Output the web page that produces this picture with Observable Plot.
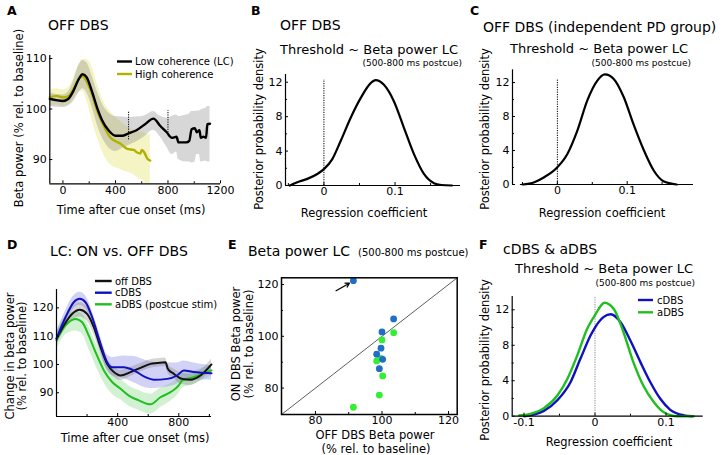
<!DOCTYPE html>
<html><head><meta charset="utf-8">
<script src="https://cdn.jsdelivr.net/npm/d3@7"></script>
<script src="https://cdn.jsdelivr.net/npm/@observablehq/plot@0.6"></script>
<style>
body{margin:0;background:#fff;}
#wrap{position:relative;width:727px;height:455px;overflow:hidden;background:#fff;}
#wrap svg{position:absolute;left:0;top:0;}
</style></head><body><div id="wrap"></div>
<script>
// ---------- Panel A data ----------
const aLCt  = [-100, 0, 40, 80, 120, 150, 180, 220, 260, 300, 350, 400, 450, 500, 560, 620, 690, 740, 790, 830, 865, 880, 940, 962, 980, 1005, 1020, 1040, 1050, 1070, 1090, 1100, 1120];
const aLCm  = [102, 101.6, 102, 103.6, 105.9, 106.9, 106.3, 103.6, 100.3, 97.7, 95.7, 94.7, 94.7, 95.2, 95.8, 96.9, 98.1, 96.7, 95.4, 94.3, 94.5, 93.4, 93.4, 93.7, 96, 96.2, 95.4, 95.8, 94.3, 94.5, 94.3, 97, 97.1];
const aLClo = [100.5, 100.3, 100.6, 101.5, 103.2, 104, 103.3, 100.5, 97, 94.3, 92.3, 91.6, 92.2, 92.8, 93.5, 94.5, 95.8, 94.5, 92.5, 91, 91.5, 90, 89.5, 89.5, 89.3, 89.5, 91, 91, 89.5, 89.6, 89.7, 89.5, 89.5];
const aLChi = [103.2, 102.8, 103.3, 105.5, 108.5, 109.6, 109.2, 106.7, 103.5, 101, 99.2, 98.5, 98.4, 98.3, 98.4, 98.6, 99.5, 98.6, 98.2, 98.5, 98.8, 98.5, 98.8, 99, 99.5, 99.5, 99.6, 99.6, 99.8, 100, 100.2, 100.5, 100.5];
const aHCt  = [-100, -50, 0, 40, 80, 120, 150, 180, 220, 260, 310, 360, 440, 490, 540, 565, 590, 600, 620, 640, 665];
const aHCm  = [102.3, 102.6, 102.3, 102.5, 104, 106, 106.5, 105.5, 103, 99.7, 96.7, 94.4, 93.1, 92.1, 91.9, 91.4, 91.2, 91.9, 91.4, 90.3, 89.8];
const aHClo = [100.5, 100.8, 100.5, 100.8, 101.8, 103.3, 103.5, 101.8, 98, 94.5, 91, 89, 88, 87.5, 87, 86.5, 86, 86, 85.5, 85.2, 85.2];
const aHChi = [103.8, 104, 103.8, 104.2, 106, 108.8, 109.8, 109.8, 108.5, 105, 101.5, 99.5, 97.5, 96.5, 95.8, 95.5, 95.3, 95.5, 95.3, 95, 95];
const aWindow = [{t: 500, y1: 93.9, y2: 99.6}, {t: 800, y1: 94.8, y2: 99.7}];
const aXticks = [0, 400, 800, 1200], aXminor = [200, 600, 1000];
const aYticks = [90, 100, 110];

// ---------- Panel B / C data ----------
const bX = [-0.048, -0.0374, -0.0233, -0.0093, 0, 0.0118, 0.0235, 0.0375, 0.0516, 0.0657, 0.0727, 0.0844, 0.0985, 0.1125, 0.1266, 0.1406, 0.1547, 0.165, 0.18];
const bY = [0, 0.38, 0.77, 1.34, 1.9, 3.07, 5.17, 7.85, 10.15, 11.9, 12.25, 11.7, 9.77, 6.7, 3.64, 1.34, 0.27, 0.06, 0];
const bZeroLineTop = 12.3;
const cX = [-0.05, -0.033, -0.019, 0, 0.0143, 0.0286, 0.0429, 0.057, 0.068, 0.081, 0.095, 0.109, 0.124, 0.138, 0.152, 0.171];
const cY = [0, 0.27, 0.86, 2.04, 3.6, 6.35, 9.9, 12.2, 12.95, 12.4, 10.3, 7.1, 4.0, 1.65, 0.39, 0];
const cZeroLineTop = 12.3;
const densYticks = [0, 4, 8, 12], densYminor = [2, 6, 10];
const bcXticks = [0, 0.1], bcXminor = [-0.05, 0.05, 0.15];

// ---------- Panel D data ----------
const dOffT  = [0, 48, 103, 152, 200, 244, 288, 331, 375, 419, 484, 549, 615, 658, 713, 728, 767, 822, 876, 942, 1014];
const dOffM  = [109.1, 113.8, 117.9, 119.3, 117.9, 113.2, 106.1, 100.2, 97.3, 96.1, 97.3, 98.8, 100.2, 100.5, 100.8, 98.5, 96.7, 94.9, 94.6, 96.1, 100];
const dOffLo = [107.2, 111.8, 115.6, 116.8, 115.4, 110.7, 103.8, 98.2, 95.5, 94.3, 95.7, 97.3, 98.7, 99, 99.3, 97, 95, 92.9, 92.6, 94.3, 98.2];
const dOffHi = [111, 115.8, 120.2, 121.8, 120.4, 115.7, 108.4, 102.2, 99.1, 97.9, 99, 100.3, 101.7, 102, 102.3, 100, 98.4, 96.9, 96.6, 97.9, 101.8];
const dCT  = [0, 59, 113, 152, 190, 233, 288, 331, 364, 440, 506, 582, 636, 724, 789, 833, 898, 1014];
const dCM  = [109.1, 116.7, 122, 123.2, 122, 116.7, 107.3, 100.8, 99, 99, 97.9, 95.5, 94.6, 94.9, 96.1, 97.9, 97.3, 96.9];
const dCLo = [106.5, 114.3, 119.7, 120.9, 119.7, 114.3, 104.5, 98, 96, 95, 93.5, 91.8, 91.5, 92, 93, 94.3, 94.5, 94.5];
const dCHi = [111.5, 119, 124.3, 125.5, 124.3, 119, 110, 103.5, 102.5, 103, 102.8, 101.5, 100.8, 100.5, 100.5, 101.2, 100.5, 99.5];
const dAT  = [0, 59, 124, 168, 211, 255, 310, 364, 419, 473, 538, 615, 680, 746, 800, 822, 898, 1014];
const dAM  = [108.5, 113.8, 116.1, 114.9, 110.2, 104.4, 97.9, 93.8, 91.4, 89, 87.3, 85.9, 88.4, 90.2, 92.6, 94.3, 95.5, 97.9];
const dALo = [105, 110.5, 111.8, 110.8, 105.5, 99.8, 93.5, 89.5, 87.5, 85.3, 83.8, 82.4, 84.8, 87, 89.7, 91.5, 93, 96];
const dAHi = [111.5, 117, 118.7, 117.8, 113.5, 108, 101.5, 97.3, 94.8, 92.5, 90.8, 89.5, 91.6, 93.2, 95.5, 97, 97.8, 99.8];
const dXticks = [400, 800], dXminor = [200, 600, 1000];
const dYticks = [90, 100, 110, 120];
const dLegend = ["off DBS", "cDBS", "aDBS (postcue stim)"];

// ---------- Panel E data ----------
const eCX = [91.4, 103.5, 100, 99.7, 98.4, 100.2, 99.2];
const eCY = [121.5, 106.7, 101.7, 95.4, 93.1, 91.1, 87.5];
const eAX = [103.5, 100, 98.4, 99.7, 100.2, 99.2, 91.4];
const eAY = [101.4, 98.6, 90.5, 91.5, 84.7, 77.3, 72.6];
const eArrow = {x1: 86.2, y1: 117.6, x2: 90.2, y2: 120.5};
const eTicks = [80, 100, 120], eMinor = [90, 110];

// ---------- Panel F data ----------
const fCX = [-0.1, -0.072, -0.053, -0.0345, -0.0204, -0.0063, 0, 0.0124, 0.022, 0.036, 0.05, 0.064, 0.078, 0.092, 0.106, 0.125, 0.137];
const fCY = [0, 0.6, 1.8, 3.83, 6.5, 9.1, 10.0, 11.2, 11.5, 10.6, 8.5, 6.1, 3.83, 1.96, 0.72, 0.1, 0];
const fAX = [-0.107, -0.091, -0.072, -0.053, -0.039, -0.025, -0.011, 0, 0.0134, 0.0265, 0.04, 0.054, 0.068, 0.083, 0.097, 0.116, 0.139];
const fAY = [0.08, 0.27, 0.9, 2.33, 4.2, 6.84, 9.85, 11.4, 12.8, 12.1, 9.5, 6.1, 3.46, 1.58, 0.45, 0, 0];
const fXticks = [-0.1, 0, 0.1], fXminor = [-0.05, 0.05];
const fLegend = ["cDBS", "aDBS"];

// ---------- colours ----------
const C_LC = "#000000", C_HC = "#b4b000";
const C_OFF = "#111111", C_C = "#1010c0", C_A = "#1fbf1f";
const C_EBLUE = "#1f6fc5", C_EGREEN = "#33ee33";

// ---------- build ----------
const W = 727, H = 455;
const FONT = "'DejaVu Sans', sans-serif";
const wrap = document.getElementById("wrap");
const style = {background: "transparent", fontFamily: FONT, fontSize: "11px", color: "#000", overflow: "visible"};
const zip = (t, m, lo, hi) => t.map((v, i) => ({t: v, m: m[i], lo: lo ? lo[i] : null, hi: hi ? hi[i] : null}));
const pts = (x, y) => x.map((v, i) => ({x: v, y: y[i]}));
function add(p) { wrap.appendChild(p); }
function frame(l, r, t, b) { return {width: W, height: H, marginLeft: l, marginRight: W - r, marginTop: t, marginBottom: H - b, style}; }
const fmt = d => String(d);
function axes(xt, xm, yt, ym, xd, yd, opts = {}) {
  const m = [
    Plot.axisX({ticks: xt, tickSize: -3, tickPadding: 5, label: null, tickFormat: fmt}),
    Plot.axisY({ticks: yt, tickSize: -3, tickPadding: 6, label: null, tickFormat: fmt}),
  ];
  if (xm) m.push(Plot.axisX({ticks: xm, tickSize: -2, label: null, tickFormat: () => ""}));
  if (ym) m.push(Plot.axisY({ticks: ym, tickSize: -2, label: null, tickFormat: () => ""}));
  if (!opts.noSpines) {
    m.push(Plot.ruleY([yd[0]], {x1: opts.xStart ?? xd[0], x2: xd[1], stroke: "#000", strokeWidth: 1.2}));
    m.push(Plot.ruleX([xd[0]], {y1: yd[0], y2: yd[1], stroke: "#000", strokeWidth: 1.2}));
  }
  return m;
}

// Panel A
const aXd = [-100, 1200], aYd = [85.2, 110.6];
const lc = zip(aLCt, aLCm, aLClo, aLChi), hc = zip(aHCt, aHCm, aHClo, aHChi);
add(Plot.plot({...frame(49.3, 220, 55, 183.3), x: {domain: aXd}, y: {domain: aYd}, marks: [
  Plot.areaY(hc, {x: "t", y1: "lo", y2: "hi", fill: "#ecec9e", fillOpacity: 0.6, curve: "monotone-x"}),
  Plot.areaY(lc, {x: "t", y1: "lo", y2: "hi", fill: "#8c8c8c", fillOpacity: 0.35, curve: "monotone-x"}),
  Plot.line(hc, {x: "t", y: "m", stroke: C_HC, strokeWidth: 2.4, curve: "monotone-x"}),
  Plot.line(lc, {x: "t", y: "m", stroke: C_LC, strokeWidth: 2.4, curve: "monotone-x"}),
  Plot.ruleX(aWindow, {x: "t", y1: "y1", y2: "y2", stroke: "#000", strokeWidth: 1, strokeDasharray: "1.2,1.2"}),
  ...axes(aXticks, aXminor, aYticks, null, aXd, aYd)
]}));

// Panel B
const bXd = [-0.054, 0.192], bYd = [0, 12.9];
add(Plot.plot({...frame(285, 460, 74, 185), x: {domain: bXd}, y: {domain: bYd}, marks: [
  Plot.ruleX([0], {y1: 0, y2: bZeroLineTop, stroke: "#000", strokeWidth: 1, strokeDasharray: "1.2,1.2"}),
  Plot.line(pts(bX, bY), {x: "x", y: "y", stroke: "#000", strokeWidth: 2.2, curve: "monotone-x"}),
  ...axes(bcXticks, bcXminor, densYticks, densYminor, bXd, bYd)
]}));

// Panel C
const cXd = [-0.0643, 0.195], cYd = [0, 13.5];
add(Plot.plot({...frame(512, 693, 69.3, 184), x: {domain: cXd}, y: {domain: cYd}, marks: [
  Plot.ruleX([0], {y1: 0, y2: cZeroLineTop, stroke: "#000", strokeWidth: 1, strokeDasharray: "1.2,1.2"}),
  Plot.line(pts(cX, cY), {x: "x", y: "y", stroke: "#000", strokeWidth: 2.2, curve: "monotone-x"}),
  ...axes(bcXticks, bcXminor, densYticks, densYminor, cXd, cYd, {xStart: -0.053})
]}));

// Panel D
const dXd = [0, 1014], dYd = [81.6, 126.5];
const dOff = zip(dOffT, dOffM, dOffLo, dOffHi), dC = zip(dCT, dCM, dCLo, dCHi), dA = zip(dAT, dAM, dALo, dAHi);
add(Plot.plot({...frame(56, 211, 289, 416), x: {domain: dXd}, y: {domain: dYd}, marks: [
  Plot.areaY(dA, {x: "t", y1: "lo", y2: "hi", fill: "#8fdc8f", fillOpacity: 0.4, curve: "monotone-x"}),
  Plot.areaY(dC, {x: "t", y1: "lo", y2: "hi", fill: "#8f8fe8", fillOpacity: 0.4, curve: "monotone-x"}),
  Plot.areaY(dOff, {x: "t", y1: "lo", y2: "hi", fill: "#777", fillOpacity: 0.3, curve: "monotone-x"}),
  Plot.line(dA, {x: "t", y: "m", stroke: C_A, strokeWidth: 2, curve: "monotone-x"}),
  Plot.line(dOff, {x: "t", y: "m", stroke: C_OFF, strokeWidth: 2, curve: "monotone-x"}),
  Plot.line(dC, {x: "t", y: "m", stroke: C_C, strokeWidth: 2, curve: "monotone-x"}),
  ...axes(dXticks, dXminor, dYticks, null, dXd, dYd)
]}));

// Panel E
const eD = [69.8, 122.6];
add(Plot.plot({...frame(281, 456.7, 277.3, 414), x: {domain: eD}, y: {domain: eD}, marks: [
  Plot.line(eD.map(v => ({v})), {x: "v", y: "v", stroke: "#333", strokeWidth: 0.8}),
  Plot.dot(pts(eAX, eAY), {x: "x", y: "y", r: 3.4, fill: C_EGREEN}),
  Plot.dot(pts(eCX, eCY), {x: "x", y: "y", r: 3.4, fill: C_EBLUE}),
  Plot.arrow([eArrow], {x1: "x1", y1: "y1", x2: "x2", y2: "y2", stroke: "#000", strokeWidth: 1.3, headLength: 5}),
  Plot.frame({stroke: "#000", strokeWidth: 1.5}),
  ...axes(eTicks, eMinor, eTicks, eMinor, eD, eD, {noSpines: true})
]}));

// Panel F
const fXd = [-0.1166, 0.1524], fYd = [0, 13.5];
add(Plot.plot({...frame(511.7, 702.7, 296, 415.7), x: {domain: fXd}, y: {domain: fYd}, marks: [
  Plot.ruleX([0], {y1: 0, y2: fYd[1], stroke: "#888", strokeWidth: 1, strokeDasharray: "1.2,1.2"}),
  Plot.line(pts(fCX, fCY), {x: "x", y: "y", stroke: C_C, strokeWidth: 2.4, curve: "monotone-x"}),
  Plot.line(pts(fAX, fAY), {x: "x", y: "y", stroke: C_A, strokeWidth: 2.4, curve: "monotone-x"}),
  ...axes(fXticks, fXminor, densYticks, densYminor, fXd, fYd)
]}));

// ---------- text overlay ----------
const ov = d3.create("svg").attr("width", W).attr("height", H).style("font-family", FONT);
function T(str, x, y, size, o = {}) {
  ov.append("text").attr("transform", `translate(${x},${y})` + (o.rot ? ` rotate(${o.rot})` : ""))
    .attr("text-anchor", o.anchor || "start").attr("font-size", size)
    .attr("font-weight", o.bold ? "bold" : "normal").attr("fill", "#000").text(str);
}
function L(x1, x2, y, color) {
  ov.append("line").attr("x1", x1).attr("x2", x2).attr("y1", y).attr("y2", y).attr("stroke", color).attr("stroke-width", 2.4);
}
// panel letters
[["A", 7, 15], ["B", 251, 15], ["C", 470, 15], ["D", 7, 249], ["E", 228, 249], ["F", 479, 249]]
  .forEach(([s, x, y]) => T(s, x, y, 12.5, {bold: true}));
// titles
T("OFF DBS", 48, 30, 14);
T("OFF DBS", 280, 30, 14);
T("Threshold ~ Beta power LC", 280, 53.5, 13);
T("(500-800 ms postcue)", 462, 65.5, 9, {anchor: "end"});
T("OFF DBS (independent PD group)", 483, 32, 14);
T("Threshold ~ Beta power LC", 510, 53, 13);
T("(500-800 ms postcue)", 691, 65.5, 9, {anchor: "end"});
T("LC: ON vs. OFF DBS", 50, 256, 14);
T("Beta power LC", 248, 256, 14);
T("(500-800 ms postcue)", 358, 255.5, 10);
T("cDBS & aDBS", 503, 253.5, 14);
T("Threshold ~ Beta power LC", 515, 272.5, 13);
T("(500-800 ms postcue)", 695, 286, 9, {anchor: "end"});
// axis labels
T("Beta power (% rel. to baseline)", 23, 118, 11.5, {anchor: "middle", rot: -90});
T("Time after cue onset (ms)", 131, 213.5, 11.5, {anchor: "middle"});
T("Posterior probability density", 263, 129, 11.5, {anchor: "middle", rot: -90});
T("Regression coefficient", 364, 216.5, 11.5, {anchor: "middle"});
T("Posterior probability density", 489, 129, 11.5, {anchor: "middle", rot: -90});
T("Regression coefficient", 602, 216.5, 11.5, {anchor: "middle"});
T("Change in beta power", 14, 356, 11.5, {anchor: "middle", rot: -90});
T("(% rel. to baseline)", 26, 356, 11.5, {anchor: "middle", rot: -90});
T("Time after cue onset (ms)", 135, 442, 11.5, {anchor: "middle"});
T("ON DBS Beta power", 240, 344, 11.5, {anchor: "middle", rot: -90});
T("(% rel. to baseline)", 253, 344, 11.5, {anchor: "middle", rot: -90});
T("OFF DBS Beta power", 375, 438.5, 11.5, {anchor: "middle"});
T("(% rel. to baseline)", 376, 452.5, 11.5, {anchor: "middle"});
T("Posterior probability density", 489, 360, 11.5, {anchor: "middle", rot: -90});
T("Regression coefficient", 609, 446, 11.5, {anchor: "middle"});
// legends
L(117, 132, 61.5, C_LC); T("Low coherence (LC)", 135, 65, 10);
L(117, 132, 74, C_HC); T("High coherence", 135, 77.5, 10);
[[C_OFF, 281], [C_C, 292.7], [C_A, 304.3]].forEach(([c, y], i) => { L(95, 111.7, y, c); T(dLegend[i], 115, y + 3.6, 10); });
[[C_C, 300], [C_A, 312.3]].forEach(([c, y], i) => { L(638, 653, y, c); T(fLegend[i], 657, y + 3.6, 10); });
wrap.appendChild(ov.node());
</script></body></html>
